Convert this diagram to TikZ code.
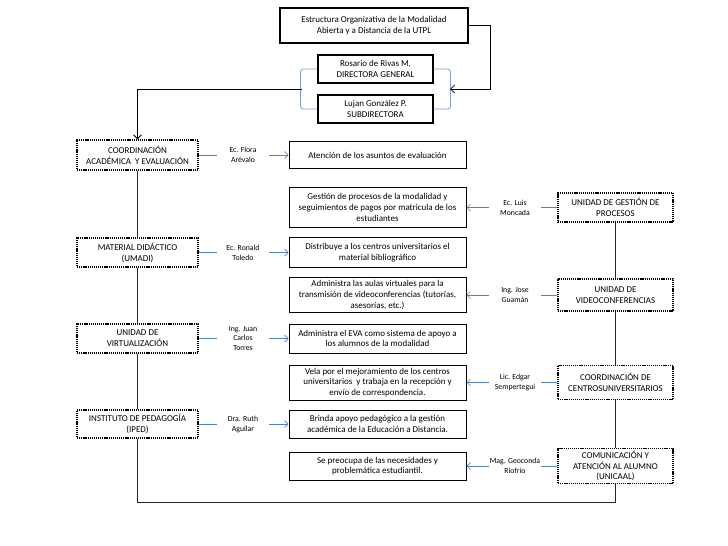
\documentclass[tikz,border=0pt]{standalone}
\usepackage{fontspec}
\setmainfont{Carlito}
\usetikzlibrary{arrows.meta,shadows}
\definecolor{lineblue}{RGB}{79,129,189}
\definecolor{bracketblue}{RGB}{125,158,200}

\begin{document}
\begin{tikzpicture}[x=1bp, y=-1bp,
	font=\fontsize{9}{10.8}\selectfont,
	topbox/.style={draw=black, fill=white, line width=1.1bp, align=center,
		drop shadow={shadow xshift=1bp, shadow yshift=-1bp, fill=black!45, opacity=1}},
	taskbox/.style={draw=black, line width=1bp, align=center, minimum width=177bp, inner sep=1bp},
	unitbox/.style={draw=black, line width=1.3bp, dash pattern=on 1.2bp off 0.9bp, align=center, inner sep=1bp},
	person/.style={font=\fontsize{7.8}{10}\selectfont, align=center, minimum width=52bp, inner sep=1bp},
	arr/.style={draw=lineblue, line width=0.7bp, -{Straight Barb[length=3.5bp,width=7bp]}},
	stub/.style={draw=lineblue, line width=0.7bp},
	chain/.style={draw=black!85, line width=0.8bp},
	darr/.style={draw=black, line width=0.8bp, -{Straight Barb[length=4bp,width=8bp]}}
]
	\useasboundingbox (0,0) rectangle (728,546);

	% direccion
	\node[topbox, minimum width=188bp, minimum height=35bp] (title) at (374,25.5)
		{\fontsize{9}{12.5}\selectfont Estructura Organizativa de la Modalidad\\Abierta y a Distancia de la UTPL};
	\node[topbox, minimum width=115bp, minimum height=28bp] (dir) at (375.5,69)  {Rosario de Rivas M.\\DIRECTORA GENERAL};
	\node[topbox, minimum width=115bp, minimum height=28bp] (sub) at (375.5,109) {Lujan González P.\\SUBDIRECTORA};

	\draw[bracketblue, line width=0.8bp, rounded corners=3bp] (dir.west) -- ++(-17,0) |- (sub.west);
	\draw[bracketblue, line width=0.8bp, rounded corners=3bp] (dir.east) -- ++(17,0) |- (sub.east);
	\coordinate (bl) at (301.5,89);
	\coordinate (br) at (450,89);

	% unidades izquierda
	\node[unitbox, minimum width=121bp, minimum height=30bp] (coord) at (137.5,155)   {COORDINACIÓN\\ACADÉMICA\ \ Y EVALUACIÓN};
	\node[unitbox, minimum width=121bp, minimum height=29bp] (umadi) at (137.5,252.5) {MATERIAL DIDÁCTICO\\(UMADI)};
	\node[unitbox, minimum width=121bp, minimum height=29bp] (virt)  at (137.5,338.5) {UNIDAD DE\\VIRTUALIZACIÓN};
	\node[unitbox, minimum width=121bp, minimum height=28bp] (iped)  at (137.5,424)   {INSTITUTO DE PEDAGOGÍA\\(IPED)};

	% funciones
	\node[taskbox, minimum height=27bp] (aten)   at (377.5,155)   {Atención de los asuntos de evaluación};
	\node[taskbox, minimum height=40bp] (gest)   at (377.5,207.5) {Gestión de procesos de la modalidad y\\seguimientos de pagos por matricula de los\\estudiantes};
	\node[taskbox, minimum height=30bp] (dist)   at (377.5,252.5) {Distribuye a los centros universitarios el\\material bibliográfico};
	\node[taskbox, minimum height=35bp] (aulas)  at (377.5,295)   {Administra las aulas virtuales para la\\transmisión de videoconferencias (tutorías,\\asesorías, etc.)};
	\node[taskbox, minimum height=29bp] (eva)    at (377.5,338.5) {Administra el EVA como sistema de apoyo a\\los alumnos de la modalidad};
	\node[taskbox, minimum height=35bp] (vela)   at (377.5,382.5) {Vela por el mejoramiento de los centros\\universitarios\ \ y trabaja en la recepción y\\envío de correspondencia.};
	\node[taskbox, minimum height=28bp] (brinda) at (377.5,424)   {Brinda apoyo pedagógico a la gestión\\académica de la Educación a Distancia.};
	\node[taskbox, minimum height=28bp] (preoc)  at (377.5,466)   {Se preocupa de las necesidades y\\problemática estudiantil.};

	% unidades derecha
	\node[unitbox, minimum width=115bp, minimum height=29bp] (ugp)     at (615.5,207.5) {UNIDAD DE GESTIÓN DE\\PROCESOS};
	\node[unitbox, minimum width=115bp, minimum height=32bp] (uvc)     at (615.5,295)   {UNIDAD DE\\VIDEOCONFERENCIAS};
	\node[unitbox, minimum width=115bp, minimum height=34bp] (ccu)     at (615.5,382.5) {COORDINACIÓN DE\\CENTROSUNIVERSITARIOS};
	\node[unitbox, minimum width=115bp, minimum height=35bp] (unicaal) at (615.5,466)   {COMUNICACIÓN Y\\ATENCIÓN AL ALUMNO\\(UNICAAL)};

	% responsables
	\node[person] (flora)  at (243,155)   {Ec. Flora\\Arévalo};
	\node[person] (ronald) at (243,252.5) {Ec. Ronald\\Toledo};
	\node[person] (juan)   at (243,338.5) {Ing. Juan\\Carlos\\Torres};
	\node[person] (ruth)   at (243,424)   {Dra. Ruth\\Aguilar};
	\node[person] (luis)   at (515,207.5) {Ec. Luis\\Moncada};
	\node[person] (jose)   at (515,295)   {Ing. Jose\\Guamán};
	\node[person] (edgar)  at (515,382.5) {Lic. Edgar\\Sempertegui};
	\node[person] (geo)    at (515,466)   {Mag. Geoconda\\Riofrio};

	% conexiones
	\draw[darr] (title.east) -- ++(22,0) |- (br);
	\draw[darr] (bl) -| (coord.north);
	\draw[chain] (coord) -- (umadi) -- (virt) -- (iped);
	\coordinate (bot) at (137.5,502);
	\draw[chain] (iped.south) -- (bot) -| (unicaal.south);
	\draw[chain] (ugp) -- (uvc) -- (ccu) -- (unicaal);

	\draw[stub] (coord.east) -- (flora.west);   \draw[arr] (flora.east) -- (aten.west);
	\draw[stub] (umadi.east) -- (ronald.west);  \draw[arr] (ronald.east) -- (dist.west);
	\draw[stub] (virt.east) -- (juan.west);     \draw[arr] (juan.east) -- (eva.west);
	\draw[stub] (iped.east) -- (ruth.west);     \draw[arr] (ruth.east) -- (brinda.west);
	\draw[stub] (ugp.west) -- (luis.east);      \draw[arr] (luis.west) -- (gest.east);
	\draw[stub] (uvc.west) -- (jose.east);      \draw[arr] (jose.west) -- (aulas.east);
	\draw[stub] (ccu.west) -- (edgar.east);     \draw[arr] (edgar.west) -- (vela.east);
	\draw[stub] (unicaal.west) -- (geo.east);   \draw[arr] (geo.west) -- (preoc.east);
\end{tikzpicture}
\end{document}
